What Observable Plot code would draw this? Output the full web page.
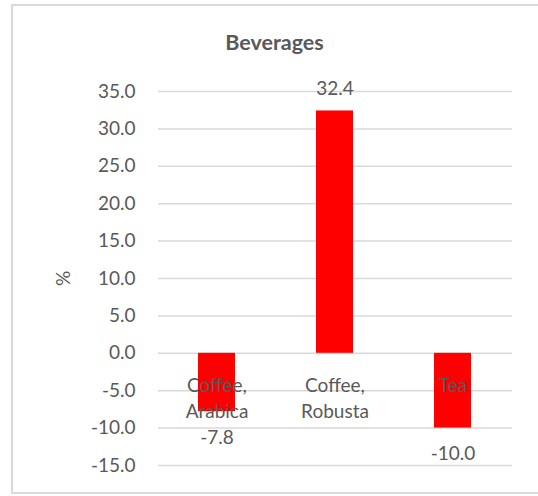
<!DOCTYPE html>
<html>
<head>
<meta charset="utf-8">
<script src="https://cdn.jsdelivr.net/npm/d3@7"></script>
<script src="https://cdn.jsdelivr.net/npm/@observablehq/plot@0.6"></script>
<style>
  body { margin: 0; background: #fff; }
  #wrap { position: relative; width: 538px; height: 496px; overflow: hidden; font-family: Lato, sans-serif; }
  #frame { position: absolute; left: 11px; top: 4px; width: 560px; height: 490px; border: 2px solid #d9d9d9; box-sizing: border-box; }
  #title { position: absolute; left: 11px; width: 527px; top: 30px; text-align: center; font-weight: bold; font-size: 21.5px; line-height: 24px; color: #595959; }
  #chart { position: absolute; left: 0; top: 70px; }
</style>
</head>
<body>
<div id="wrap">
  <div id="frame"></div>
  <div id="title">Beverages</div>
  <div id="chart"></div>
</div>
<script>
const categories = ["Coffee, Arabica", "Coffee, Robusta", "Tea"];
const values = [-7.8, 32.4, -10.0];
const yTicks = [-15, -10, -5, 0, 5, 10, 15, 20, 25, 30, 35];
const yLabel = "%";

const data = categories.map((c, i) => ({category: c, value: values[i]}));
const fmt = d => d.toFixed(1);

const chart = Plot.plot({
  width: 538,
  height: 426,
  marginLeft: 158,
  marginRight: 26,
  marginTop: 21,
  marginBottom: 31,
  style: {fontFamily: "Lato, sans-serif", fontSize: "19px", color: "#595959", background: "transparent"},
  x: {type: "band", domain: categories, paddingInner: 0.686, paddingOuter: 0.343, axis: null},
  y: {domain: [-15, 35]},
  marks: [
    Plot.gridY(yTicks, {stroke: "#d9d9d9", strokeOpacity: 1, strokeWidth: 1.5}),
    Plot.axisY(yTicks, {tickSize: 0, tickPadding: 23, tickFormat: fmt, label: yLabel, labelAnchor: "center", labelArrow: "none", labelOffset: 102, fill: "#595959", fontSize: 19}),
    Plot.barY(data, {x: "category", y: "value", fill: "#ff0000"}),
    Plot.text(data, {x: "category", y: () => 0, text: d => d.category.replace(", ", ",\n"), lineAnchor: "top", dy: 20, lineHeight: 1.37, fill: "#595959", fontSize: 19}),
    Plot.text(data.filter(d => d.value >= 0), {x: "category", y: "value", text: d => fmt(d.value), dy: -22, fill: "#595959", fontSize: 19}),
    Plot.text(data.filter(d => d.value < 0), {x: "category", y: "value", text: d => fmt(d.value), dy: 26, fill: "#595959", fontSize: 19})
  ]
});
document.getElementById("chart").appendChild(chart);
</script>
</body>
</html>
